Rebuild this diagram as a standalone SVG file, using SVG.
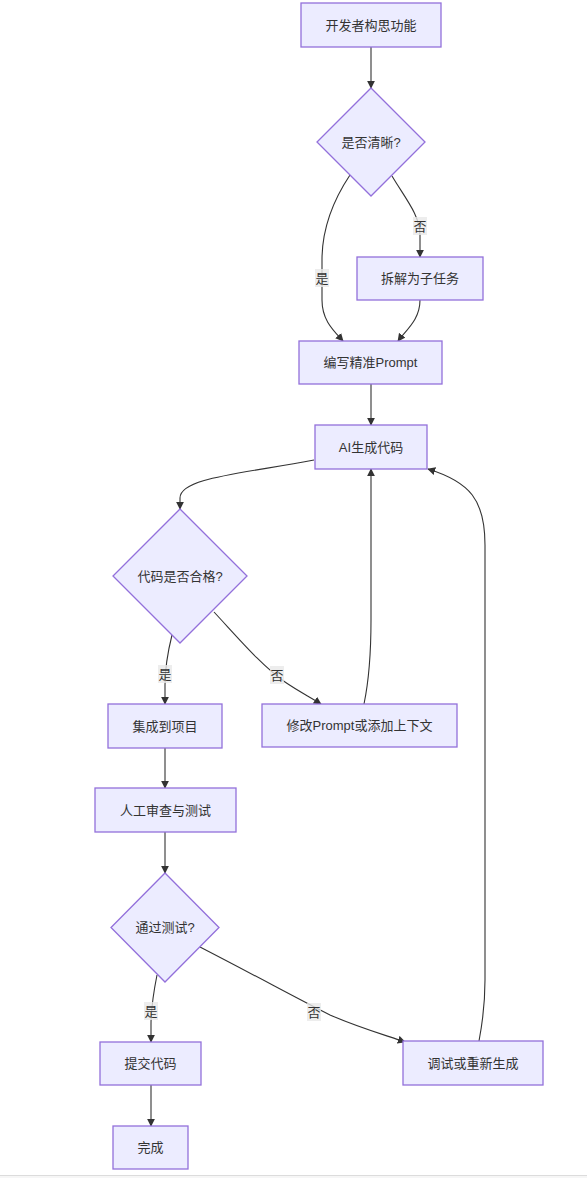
<svg xmlns="http://www.w3.org/2000/svg" width="587" height="1178" viewBox="0 0 587 1178">
<defs>
<style>
.node rect,.node polygon{fill:#ECECFF;stroke:#9370DB;stroke-width:1.3;}
.node text,.lbl text{font-family:"Liberation Sans","Noto Sans CJK SC",sans-serif;font-size:13px;fill:#333333;text-anchor:middle;dominant-baseline:central;}
.edges path{fill:none;stroke:#333333;stroke-width:1.1;marker-end:url(#arr);}
.lbl rect{fill:#E8E8E8;fill-opacity:0.8;}
</style>
<marker id="arr" viewBox="0 0 10 10" refX="9" refY="5" markerWidth="8" markerHeight="8" markerUnits="userSpaceOnUse" orient="auto">
<path d="M0,0 L10,5 L0,10 z" fill="#333333"/>
</marker>
</defs>
<rect x="0" y="0" width="587" height="1178" fill="#ffffff"/>
<rect x="0" y="1175" width="587" height="1" fill="#dcdcdc"/>
<rect x="0" y="1176" width="587" height="2" fill="#f6f6f6"/>
<g class="edges">
<path d="M371,47 L371,88"/>
<path d="M350,175 C330,205 322,235 322,260 L322,300 C322,320 333,330 343,341"/>
<path d="M392,176 C405,198 420,215 420,235 L420,257"/>
<path d="M420,300 C420,320 406,330 398,341"/>
<path d="M371,384 L371,425"/>
<path d="M314,460 C240,474 180,478 180,498 L180,509"/>
<path d="M172,635 C167,655 165,670 165,685 L165,704"/>
<path d="M214,612 C240,640 262,666 285,682 C298,691 310,697 321,704"/>
<path d="M364,704 C369,680 371,650 371,620 L371,469"/>
<path d="M165,748 L165,788"/>
<path d="M165,832 L165,873"/>
<path d="M157,975 C154,990 151,1010 151,1025 L151,1042"/>
<path d="M200,947 C260,978 300,1000 330,1015 C360,1028 385,1035 405,1042"/>
<path d="M151,1085 L151,1126"/>
<path d="M479,1041 C483,1020 485,1000 485,980 L485,545 C485,500 470,482 428,469"/>
</g>
<g class="lbl" id="l1"><rect x="315" y="269" width="14" height="18"/><text x="322" y="278">是</text></g>
<g class="lbl" id="l2"><rect x="413" y="217" width="14" height="18"/><text x="420" y="226">否</text></g>
<g class="lbl" id="l3"><rect x="158" y="665" width="14" height="18"/><text x="165" y="674">是</text></g>
<g class="lbl" id="l4"><rect x="270" y="666" width="14" height="18"/><text x="277" y="675">否</text></g>
<g class="lbl" id="l5"><rect x="144" y="1002" width="14" height="18"/><text x="151" y="1011">是</text></g>
<g class="lbl" id="l6"><rect x="307" y="1003" width="14" height="18"/><text x="314" y="1012">否</text></g>
<g class="node" id="n1"><rect x="301" y="3" width="140" height="44"/><text x="371" y="25">开发者构思功能</text></g>
<g class="node" id="n2"><polygon points="371,88 425,142 371,196 317,142"/><text x="371" y="142">是否清晰?</text></g>
<g class="node" id="n3"><rect x="357" y="257" width="126" height="43"/><text x="420" y="278.5">拆解为子任务</text></g>
<g class="node" id="n4"><rect x="299" y="341" width="143" height="43"/><text x="370.5" y="362.5">编写精准Prompt</text></g>
<g class="node" id="n5"><rect x="315" y="425" width="112" height="44"/><text x="371" y="447">AI生成代码</text></g>
<g class="node" id="n6"><polygon points="180,509 247,576 180,643 113,576"/><text x="180" y="576">代码是否合格?</text></g>
<g class="node" id="n7"><rect x="108" y="704" width="114" height="44"/><text x="165" y="726">集成到项目</text></g>
<g class="node" id="n8"><rect x="262" y="704" width="195" height="43"/><text x="359.5" y="725.5">修改Prompt或添加上下文</text></g>
<g class="node" id="n9"><rect x="95" y="788" width="141" height="44"/><text x="165.5" y="810">人工审查与测试</text></g>
<g class="node" id="n10"><polygon points="165,873 219,927.5 165,982 111,927.5"/><text x="165" y="927.5">通过测试?</text></g>
<g class="node" id="n11"><rect x="100" y="1042" width="101" height="43"/><text x="150.5" y="1063.5">提交代码</text></g>
<g class="node" id="n12"><rect x="113" y="1126" width="75" height="43"/><text x="150.5" y="1147.5">完成</text></g>
<g class="node" id="n13"><rect x="403" y="1041" width="140" height="44"/><text x="473" y="1063">调试或重新生成</text></g>
</svg>
